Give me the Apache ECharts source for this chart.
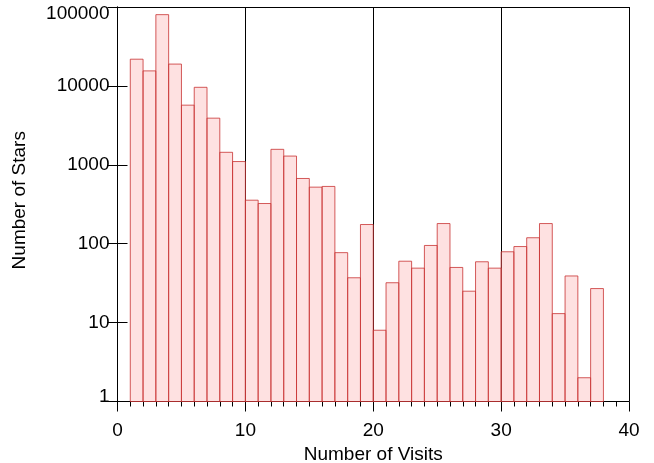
<!DOCTYPE html>
<html>
<head>
<meta charset="utf-8">
<script src="https://cdn.jsdelivr.net/npm/echarts@6/dist/echarts.min.js"></script>
<style>
html,body{margin:0;padding:0;background:#fff;}
#chart{width:654px;height:463px;}
</style>
</head>
<body>
<div id="chart"></div>
<script>
// Lower edge of each 1-visit bin
var binStarts = [1,2,3,4,5,6,7,8,9,10,11,12,13,14,15,16,17,18,19,20,21,22,23,24,25,26,27,28,29,30,31,32,33,34,35,36,37];
// Number of stars in each bin
var starCounts = [21800,15500,80000,18900,5700,9600,3900,1440,1100,356,323,1570,1290,671,521,532,77,37,175,8,32,60,49,95,180,50,25,59,49,79,92,119,180,13,39,2,27];
var binWidth = 1;
var xTicks = [0,10,20,30,40];
var yTicks = [1,10,100,1000,10000,100000];

var data = binStarts.map(function(s,i){ return [s, s+binWidth, starCounts[i]]; });

var font = '"Liberation Sans", Arial, Helvetica, sans-serif';
var chart = echarts.init(document.getElementById('chart'), null, {renderer:'canvas'});
chart.setOption({
  animation:false,
  backgroundColor:'#fff',
  grid:{left:117.5, top:7, right:25, bottom:61.5, containLabel:false, outerBoundsMode:'none'},
  xAxis:[{
    type:'value', min:xTicks[0], max:xTicks[xTicks.length-1], interval:10,
    name:'Number of Visits', nameLocation:'middle', nameGap:41,
    nameTextStyle:{color:'#000', fontSize:19, fontFamily:font},
    axisLine:{show:true, onZero:false, lineStyle:{color:'#000', width:1}},
    axisTick:{show:true, inside:false, length:10, lineStyle:{color:'#000'}},
    minorTick:{show:true, splitNumber:10, length:5, lineStyle:{color:'#000'}},
    axisLabel:{color:'#000', fontSize:19, fontFamily:font, margin:20},
    splitLine:{show:true, lineStyle:{color:'#000', width:1}}
  },{
    type:'value', position:'top', min:0, max:40,
    axisLine:{show:true, lineStyle:{color:'#000'}},
    axisTick:{show:false}, axisLabel:{show:false}, splitLine:{show:false}
  }],
  yAxis:[{
    type:'log', logBase:10, min:yTicks[0], max:yTicks[yTicks.length-1],
    name:'Number of Stars', nameLocation:'middle', nameGap:88,
    nameTextStyle:{color:'#000', fontSize:19, fontFamily:font, padding:[0,0,0,8]},
    axisLine:{show:true, lineStyle:{color:'#000'}},
    axisTick:{show:true, inside:true, length:10, lineStyle:{color:'#000'}},
    axisLabel:{color:'#000', fontSize:19, fontFamily:font, margin:8,
      formatter:function(v){
        var s = String(Math.round(v));
        if (Math.round(v) === yTicks[yTicks.length-1]) return '{top|' + s + '}';
        if (Math.round(v) === yTicks[0]) return '{bot|' + s + '}';
        return s;
      },
      rich:{
        top:{fontSize:19, fontFamily:font, color:'#000', padding:[14,0,0,0]},
        bot:{fontSize:19, fontFamily:font, color:'#000', padding:[0,0,10,0]}
      }},
    splitLine:{show:false}
  },{
    type:'log', logBase:10, min:1, max:100000, position:'right',
    axisLine:{show:true, lineStyle:{color:'#000'}},
    axisTick:{show:true, inside:true, length:10, lineStyle:{color:'#000'}},
    axisLabel:{show:false}, splitLine:{show:false}
  }],
  series:[{
    type:'custom',
    xAxisIndex:0, yAxisIndex:0,
    data:data,
    renderItem:function(params, api){
      var p0 = api.coord([api.value(0), api.value(2)]);
      var p1 = api.coord([api.value(1), 1]);
      return {
        type:'rect',
        shape:{x:p0[0], y:p0[1], width:p1[0]-p0[0], height:p1[1]-p0[1]},
        style:{fill:'rgba(252,170,170,0.35)', stroke:'rgba(200,50,50,0.8)', lineWidth:1}
      };
    }
  }]
});
</script>
</body>
</html>
